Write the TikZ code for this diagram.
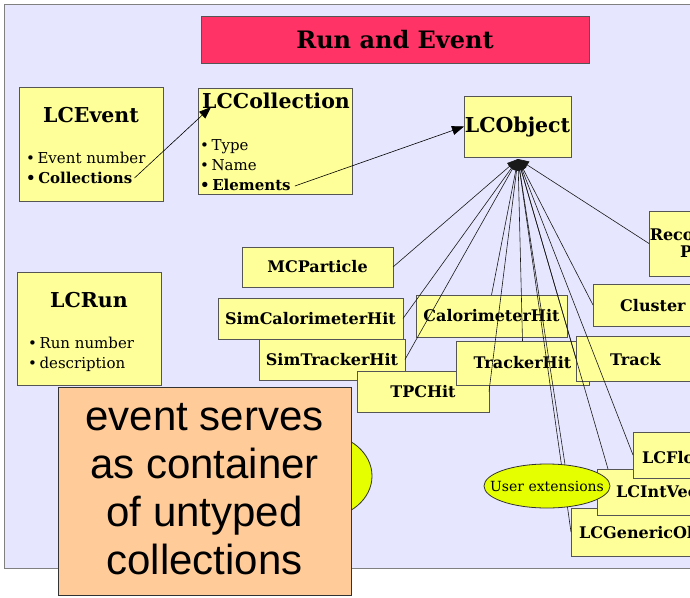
\documentclass[tikz,border=0pt]{standalone}
\usepackage{fontspec}
\setmainfont{DejaVu Serif}
\newfontfamily\arialfont{Liberation Sans}
\usetikzlibrary{arrows.meta,shapes.geometric,calc}
\definecolor{bglav}{HTML}{E6E6FF}
\definecolor{boxyellow}{HTML}{FFFF99}
\definecolor{titlered}{HTML}{FF3366}
\definecolor{notebg}{HTML}{FFCC99}
\definecolor{ellfill}{HTML}{E6FF00}
\definecolor{edge}{HTML}{555555}
\begin{document}
\begin{tikzpicture}[x=1pt,y=-1pt,
  box/.style={draw=edge,fill=boxyellow,line width=0.9pt,anchor=north west,inner sep=0pt,outer sep=0pt},
  lbl/.style={font=\bfseries\fontsize{16}{19}\selectfont},
  big/.style={font=\bfseries\fontsize{20.5}{24}\selectfont},
  itm/.style={font=\fontsize{15}{18}\selectfont,anchor=base west,inner sep=0pt},
  bitm/.style={font=\bfseries\fontsize{15}{18}\selectfont,anchor=base west,inner sep=0pt},
  txt/.style={anchor=base west,inner sep=0pt},
  ctxt/.style={anchor=base,inner sep=0pt},
  arr/.style={draw=black,line width=0.6pt,-{Triangle[length=12pt,width=9pt]}},
  inh/.style={draw=black!90,line width=0.6pt,-{Triangle[length=11pt,width=8pt]}},
  ell/.style={ellipse,draw=black!80,fill=ellfill,line width=0.8pt,inner sep=0pt}
]
\useasboundingbox (0,0) rectangle (690,597);
\clip (0,0) rectangle (690,597);
% background panel
\node[draw=gray,fill=bglav,line width=1pt,anchor=north west,inner sep=0pt,minimum width=700pt,minimum height=564.5pt] (bg) at (3.5,3.5) {};
% title
\node[box,fill=titlered,minimum width=388pt,minimum height=47pt,font=\bfseries\fontsize{24}{28}\selectfont] (title) at (201,16) {Run and Event};
% LCEvent
\node[box,minimum width=144pt,minimum height=114pt] (ev) at (19,87) {};
\node[big,ctxt] (evt) at (91,122) {LCEvent};
\node[itm] (ev1) at (26,163) {\textbullet\,Event number};
\node[bitm] (ev2) at (26,183) {\textbullet\,Collections};
% LCCollection
\node[box,minimum width=154pt,minimum height=106pt] (col) at (198,88) {};
\node[big,txt] (colt) at (202,108) {LCCollection};
\node[itm] (col1) at (200,150) {\textbullet\,Type};
\node[itm] (col2) at (200,170) {\textbullet\,Name};
\node[bitm] (col3) at (200,190) {\textbullet\,Elements};
% LCObject
\node[box,minimum width=107pt,minimum height=61pt,big] (obj) at (464,96) {LCObject};
% LCRun
\node[box,minimum width=144pt,minimum height=113pt] (run) at (17,272) {};
\node[big,ctxt] (runt) at (89,307) {LCRun};
\node[itm] (run1) at (28,348) {\textbullet\,Run number};
\node[itm] (run2) at (28,368) {\textbullet\,description};
% association arrows
\coordinate (colltip) at (211,107);
\draw[arr] ($(ev2.base east)+(2,-5)$) -- (colltip);
\draw[arr] ($(col3.base east)+(4,-4)$) -- (obj.west);
% hidden ellipse behind the note
\node[ell,minimum width=100pt,minimum height=84pt] (hid) at (322,476) {};
% LCObject subclasses
\node[box,lbl,minimum width=132pt,minimum height=65pt,align=center] (reco) at (649,211) {Reconstructed\\[-2pt]Particle};
\node[box,lbl,minimum width=151pt,minimum height=40pt] (mcp) at (242,247) {MCParticle};
\node[box,minimum width=120pt,minimum height=42pt] (clu) at (593,284) {};
\node[lbl,txt] (clut) at (620,311) {Cluster};
\node[box,lbl,minimum width=185pt,minimum height=41pt] (sch) at (218,298) {SimCalorimeterHit};
\node[box,lbl,minimum width=151pt,minimum height=42pt] (ch) at (416,295) {CalorimeterHit};
\node[box,lbl,minimum width=146pt,minimum height=41pt] (sth) at (259,339) {SimTrackerHit};
\node[box,lbl,minimum width=132pt,minimum height=41pt] (tpc) at (357,371) {TPCHit};
\node[box,lbl,minimum width=133pt,minimum height=44pt] (th) at (456,341) {TrackerHit};
\node[box,minimum width=120pt,minimum height=45pt] (trk) at (576,336) {};
\node[lbl,txt] (trkt) at (610,365) {Track};
\node[box,minimum width=170pt,minimum height=48pt] (gen) at (571,508) {};
\node[lbl,txt] (gent) at (579,538) {LCGenericObject};
\node[box,minimum width=123pt,minimum height=46pt] (ivec) at (597,469) {};
\node[lbl,txt] (ivect) at (616,497) {LCIntVec};
\node[box,minimum width=127pt,minimum height=46pt] (fvec) at (633,432) {};
\node[lbl,txt] (fvect) at (642,463) {LCFloatVec};
% inheritance lines
\coordinate (hub) at (518,159);
\draw[inh] (mcp.east) -- (hub);
\draw[inh] (sch.east) -- (hub);
\draw[inh] (sth.east) -- (hub);
\draw[inh] (tpc.east) -- (hub);
\draw[inh] (ch.north) -- (hub);
\draw[inh] (th.north) -- (hub);
\draw[inh] (trk.west) -- (hub);
\draw[inh] (clu.west) -- (hub);
\draw[inh] (reco.west) -- (hub);
\draw[inh] (gen.west) -- (hub);
\draw[inh] ($(ivec.north west)+(11,0)$) -- (hub);
\draw[inh] (fvec.west) -- (hub);
\node[ell,minimum width=126pt,minimum height=44pt] (ue) at (547,486) {};
\node[font=\fontsize{14}{17}\selectfont,inner sep=0pt] (uet) at (547,486) {User extensions};
\draw[inh] (ue.50) -- (hub);
% note
\node[draw=black!80,fill=notebg,line width=1pt,anchor=north west,inner sep=0pt,minimum width=293pt,minimum height=208pt] (note) at (58,387) {};
\node[font=\arialfont\fontsize{42}{48}\selectfont,align=center,anchor=north,inner sep=0pt] (notet) at (204.5,403) {event serves\\as container\\of untyped\\collections};
\end{tikzpicture}
\end{document}
